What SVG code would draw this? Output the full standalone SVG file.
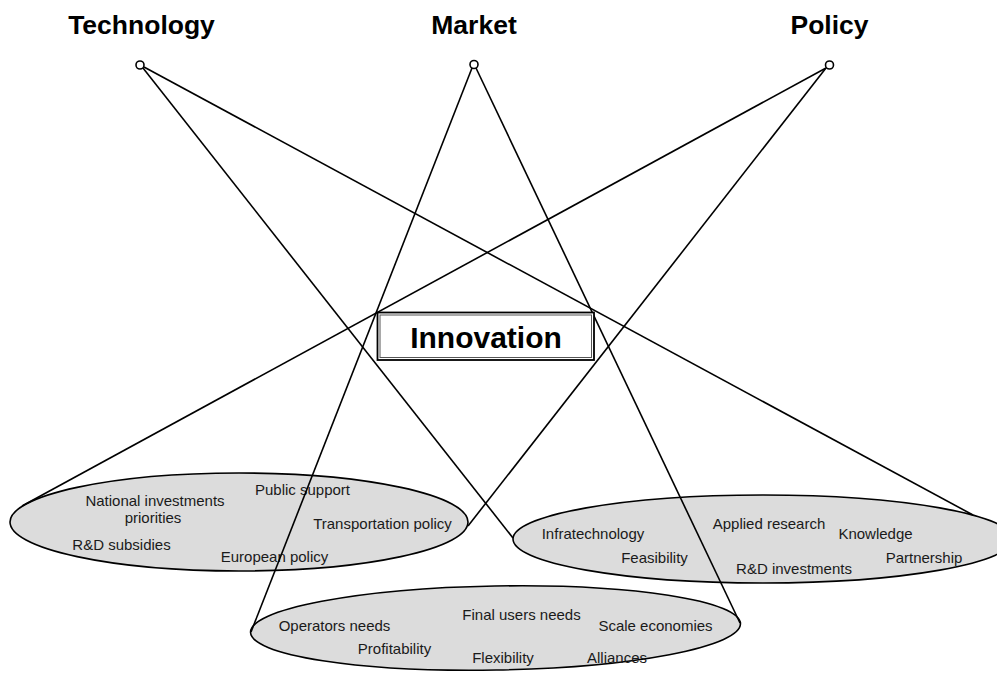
<svg xmlns="http://www.w3.org/2000/svg" width="997" height="673" viewBox="0 0 997 673">
<style>
.ell{fill:#dcdcdc;stroke:#000;stroke-width:1.6}
.lbl{font-family:"Liberation Sans",Arial,sans-serif;font-size:15px;fill:#1a1a1a;text-anchor:middle}
.head{font-family:"Liberation Sans",Arial,sans-serif;font-size:26.5px;font-weight:bold;fill:#000;text-anchor:middle}
.con line{stroke:#000;stroke-width:1.6;fill:none}
.pt{fill:#fff;stroke:#000;stroke-width:1.6}
</style>
<rect width="997" height="673" fill="#fff"/>
<g id="policy-cluster">
<ellipse class="ell" cx="239" cy="522" rx="229" ry="49"/>
<text class="lbl" x="155" y="506">National investments</text>
<text class="lbl" x="153" y="523">priorities</text>
<text class="lbl" x="302.5" y="495">Public support</text>
<text class="lbl" x="382.5" y="529">Transportation policy</text>
<text class="lbl" x="121.5" y="550">R&amp;D subsidies</text>
<text class="lbl" x="274.5" y="562">European policy</text>
</g>
<g id="technology-cluster">
<ellipse class="ell" cx="763" cy="539" rx="250" ry="44"/>
<text class="lbl" x="593" y="539">Infratechnology</text>
<text class="lbl" x="769" y="529">Applied research</text>
<text class="lbl" x="875.5" y="539">Knowledge</text>
<text class="lbl" x="654.5" y="563">Feasibility</text>
<text class="lbl" x="794" y="574">R&amp;D investments</text>
<text class="lbl" x="924" y="563">Partnership</text>
</g>
<g id="market-cluster">
<ellipse class="ell" cx="495.5" cy="628" rx="245" ry="42" transform="rotate(-1 495.5 628)"/>
<text class="lbl" x="334.5" y="631">Operators needs</text>
<text class="lbl" x="521.5" y="620">Final users needs</text>
<text class="lbl" x="655.5" y="631">Scale economies</text>
<text class="lbl" x="394.5" y="654">Profitability</text>
<text class="lbl" x="503" y="663">Flexibility</text>
<text class="lbl" x="617" y="663">Alliances</text>
</g>
<g id="connectors" class="con">
<line x1="143" y1="68" x2="513" y2="538"/>
<line x1="144" y1="67" x2="973" y2="515"/>
<line x1="472" y1="68" x2="251" y2="632"/>
<line x1="476" y1="68" x2="740" y2="623"/>
<line x1="826" y1="68" x2="22" y2="506"/>
<line x1="826" y1="68" x2="468" y2="526"/>
</g>
<g id="technology">
<text class="head" x="141.5" y="34">Technology</text>
<circle class="pt" cx="140" cy="65" r="4"/>
</g>
<g id="market">
<text class="head" x="474" y="34">Market</text>
<circle class="pt" cx="474" cy="64.5" r="4"/>
</g>
<g id="policy">
<text class="head" x="829.5" y="34">Policy</text>
<circle class="pt" cx="829.5" cy="65" r="4"/>
</g>
<g id="innovation">
<rect x="377.5" y="312.5" width="216.5" height="47.5" fill="#fff" stroke="#000" stroke-width="1.8"/>
<rect x="380" y="315" width="211.5" height="42.5" fill="none" stroke="#555" stroke-width="1"/>
<text x="486" y="348" font-family="Liberation Sans, Arial, sans-serif" font-size="30" font-weight="bold" text-anchor="middle" fill="#000">Innovation</text>
</g>
</svg>
